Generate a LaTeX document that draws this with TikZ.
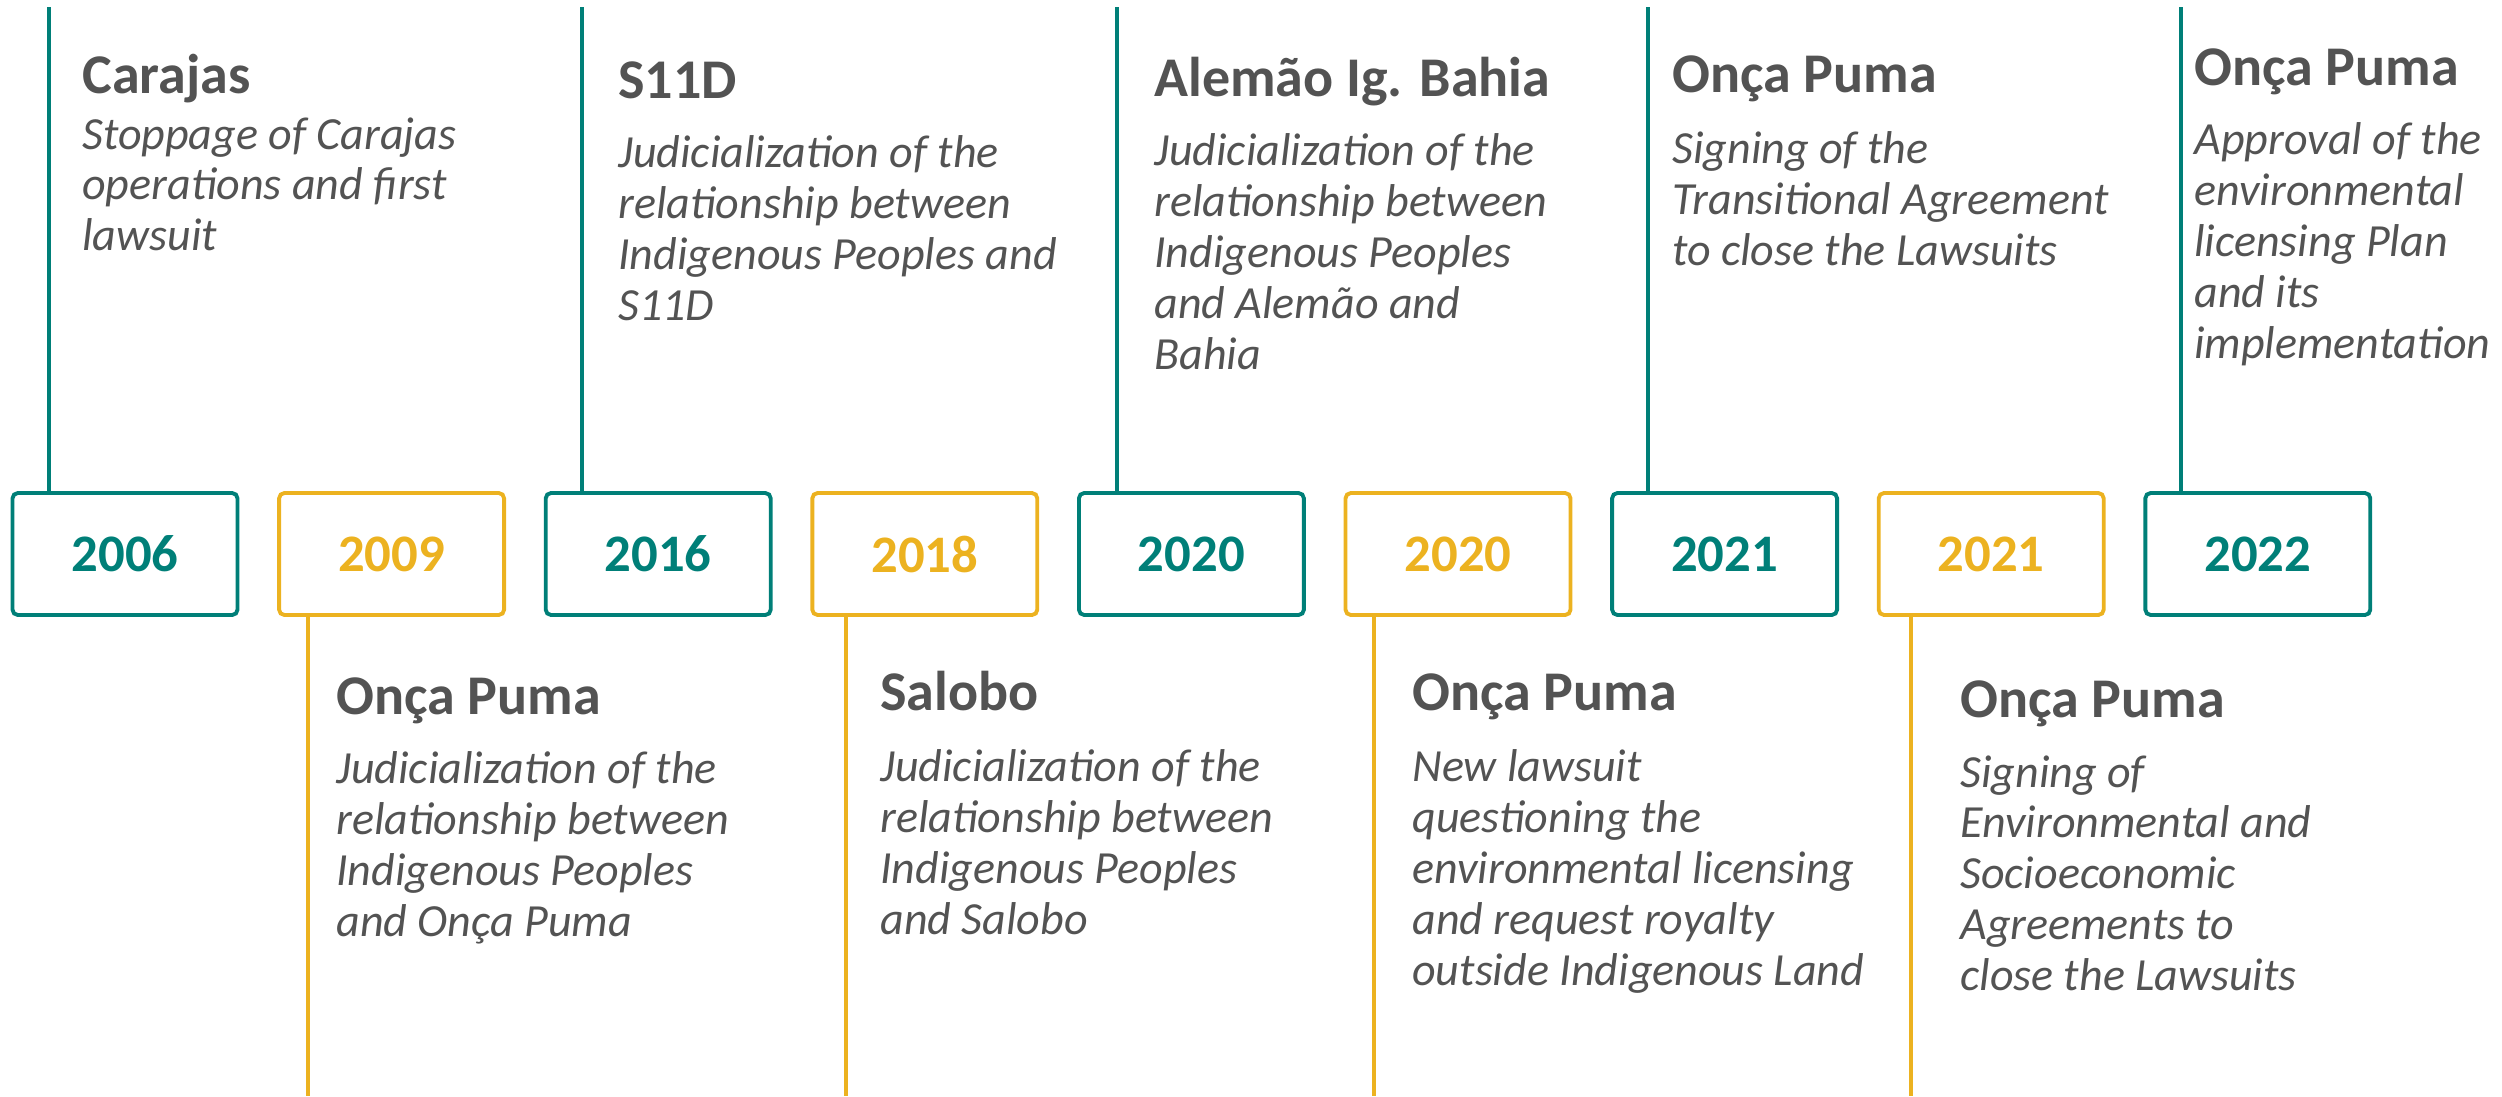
\documentclass[tikz,border=0pt]{standalone}
\usepackage{fontspec}
\setmainfont{Carlito}
\definecolor{valeteal}{RGB}{0,127,120}
\definecolor{valegold}{RGB}{236,178,32}
\definecolor{inkgray}{RGB}{83,83,83}

\begin{document}
\begin{tikzpicture}[x=0.02cm, y=-0.02cm,
    year/.style={draw=#1, text=#1, line width=2.2pt, rounded corners=3pt,
                 minimum width=4.5cm, minimum height=2.44cm, inner sep=0pt,
                 font=\fontsize{30}{32}\selectfont\bfseries},
    stem/.style={draw=#1, line width=1.9pt},
    head/.style={anchor=base west, inner sep=0pt, text=inkgray,
                 font=\fontsize{31.9}{34}\selectfont\bfseries},
    % top of first line sits 20pt above its baseline
    desc/.style={anchor=north west, inner sep=0pt, text=inkgray, align=left,
                 font=\fontsize{26.2}{29}\selectfont\itshape,
                 execute at begin node={\rule{0pt}{20pt}}}
]
\useasboundingbox (0,0) rectangle (2502,1096);

% ---- Year boxes ----
\node[year=valeteal] (y2006)  at (125,554)    {2006};
\node[year=valegold] (y2009)  at (391.6,554)  {2009};
\node[year=valeteal] (y2016)  at (658.2,554)  {2016};
\node[year=valegold] (y2018)  at (924.8,554)  {2018};
\node[year=valeteal] (y2020a) at (1191.4,554) {2020};
\node[year=valegold] (y2020b) at (1458,554)   {2020};
\node[year=valeteal] (y2021a) at (1724.6,554) {2021};
\node[year=valegold] (y2021b) at (1991.2,554) {2021};
\node[year=valeteal] (y2022)  at (2257.8,554) {2022};

% ---- Upper events ----
\coordinate (t2006)  at (49,7);
\coordinate (t2016)  at (582,7);
\coordinate (t2020)  at (1117,7);
\coordinate (t2021)  at (1648,7);
\coordinate (t2022)  at (2181,7);
\draw[stem=valeteal] (t2006) -- (t2006 |- y2006.north);
\draw[stem=valeteal] (t2016) -- (t2016 |- y2016.north);
\draw[stem=valeteal] (t2020) -- (t2020 |- y2020a.north);
\draw[stem=valeteal] (t2021) -- (t2021 |- y2021a.north);
\draw[stem=valeteal] (t2022) -- (t2022 |- y2022.north);

\node[head] (hd2006) at (82,93)   {Carajas};
\node[desc] (tx2006) at (82,117)
      {Stoppage of Carajas\\operations and first\\lawsuit};
\node[head] (hd2016) at (618,98)  {S11D};
\node[desc] (tx2016) at (618,135)
      {Judicialization of the\\relationship between\\Indigenous Peoples and\\S11D};
\node[head] (hd2020) at (1154,96) {Alemão Ig. Bahia};
\node[desc] (tx2020) at (1154,133)
      {Judicialization of the\\relationship between\\Indigenous Peoples\\and Alemão and\\Bahia};
\node[head] (hd2021) at (1672,92) {Onça Puma};
\node[desc] (tx2021) at (1672,131)
      {Signing of the\\Transitional Agreement\\to close the Lawsuits};
\node[head] (hd2022) at (2194,85) {Onça Puma};
\node[desc] (tx2022) at (2194,122)
      {Approval of the\\environmental\\licensing Plan\\and its\\implementation};

% ---- Lower events ----
\coordinate (b2009)  at (308,1096);
\coordinate (b2018)  at (846,1096);
\coordinate (b2020)  at (1374,1096);
\coordinate (b2021)  at (1911,1096);
\draw[stem=valegold] (b2009 |- y2009.south)  -- (b2009);
\draw[stem=valegold] (b2018 |- y2018.south)  -- (b2018);
\draw[stem=valegold] (b2020 |- y2020b.south) -- (b2020);
\draw[stem=valegold] (b2021 |- y2021b.south) -- (b2021);

\node[head] (hd2009) at (336,714)  {Onça Puma};
\node[desc] (tx2009) at (336,751)
      {Judicialization of the\\relationship between\\Indigenous Peoples\\and Onça Puma};
\node[head] (hd2018) at (880,710)  {Salobo};
\node[desc] (tx2018) at (880,749)
      {Judicialization of the\\relationship between\\Indigenous Peoples\\and Salobo};
\node[head] (hd2020b) at (1412,710) {Onça Puma};
\node[desc] (tx2020b) at (1412,749)
      {New lawsuit\\questioning the\\environmental licensing\\and request royalty\\outside Indigenous Land};
\node[head] (hd2021b) at (1960,717) {Onça Puma};
\node[desc] (tx2021b) at (1960,755)
      {Signing of\\Environmental and\\Socioeconomic\\Agreements to\\close the Lawsuits};

\end{tikzpicture}
\end{document}
